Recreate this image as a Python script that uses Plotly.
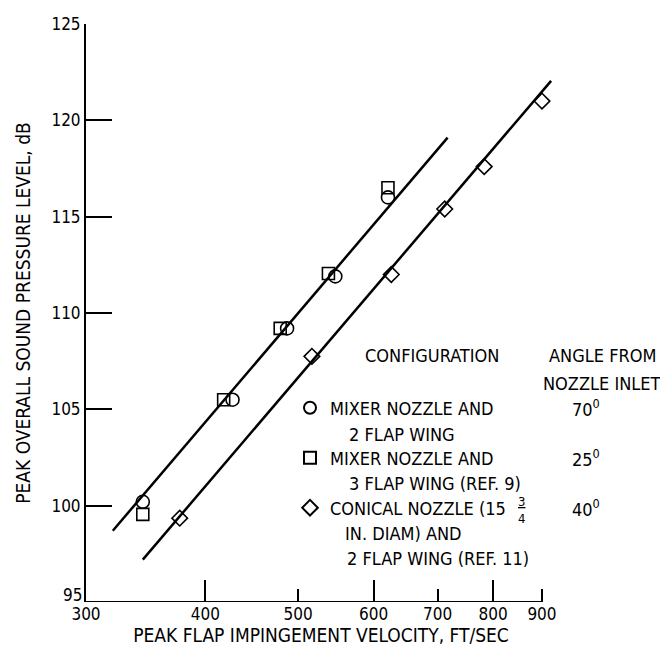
import math
import plotly.graph_objects as go

# ---------------- data ----------------
circle_v = [344, 427, 487, 547, 621]
circle_db = [100.2, 105.5, 109.2, 111.9, 116.0]

square_v = [344, 418, 479, 538, 621]
square_db = [99.55, 105.5, 109.2, 112.05, 116.5]

diamond_v = [376, 517, 626, 712, 783, 900]
diamond_db = [99.35, 107.75, 112.0, 115.4, 117.6, 121.0]

# faired lines (end points)
fit1_v = [320, 717]
fit1_db = [98.7, 119.1]
fit2_v = [344, 920]
fit2_db = [97.2, 122.05]

x_tick_vals = [300, 400, 500, 600, 700, 800, 900]
x_tick_text = ["300", "400", "500", "600", "700", "800", "900"]
x_long_ticks = [400, 600, 800]
y_tick_vals = [95, 100, 105, 110, 115, 120, 125]
y_tick_text = ["", "100", "105", "110", "115", "120", "125"]

legend_first = ["MIXER NOZZLE AND", "MIXER NOZZLE AND", "CONICAL NOZZLE (15"]
angles = ["70<sup>0</sup>", "25<sup>0</sup>", "40<sup>0</sup>"]

# ---------------- layout geometry ----------------
OFF = 8  # page body margin
W, H = 668 - OFF, 660 - OFF
L, T = 86 - OFF, 24 - OFF
PW = 470
PH = 578
R = W - L - PW
B = H - T - PH
PX_PER_DECADE = 955.7
x_lo = math.log10(300)
x_hi = x_lo + PW / PX_PER_DECADE

FONT = "Liberation Sans Narrow, DejaVu Sans Condensed, Arial Narrow, sans-serif"
FS = 18


def px_x(px):
    return (px - OFF - L) / PW


def px_y(py):
    return (T + PH - (py - OFF)) / PH


fig = go.Figure()

fig.add_trace(go.Scatter(x=fit1_v, y=fit1_db, mode="lines", xaxis="x2",
                         line=dict(color="black", width=2.5), showlegend=False,
                         hoverinfo="skip"))
fig.add_trace(go.Scatter(x=fit2_v, y=fit2_db, mode="lines", xaxis="x2",
                         line=dict(color="black", width=2.5), showlegend=False,
                         hoverinfo="skip"))

mk_line = dict(color="black", width=1.6)
fig.add_trace(go.Scatter(x=square_v, y=square_db, mode="markers", name=legend_first[1],
                         legend="legend2",
                         marker=dict(symbol="square-open", size=12, color="black", line=mk_line)))
fig.add_trace(go.Scatter(x=circle_v, y=circle_db, mode="markers", name=legend_first[0],
                         legend="legend",
                         marker=dict(symbol="circle-open", size=13, color="black", line=mk_line)))
fig.add_trace(go.Scatter(x=diamond_v, y=diamond_db, mode="markers", name=legend_first[2],
                         legend="legend3",
                         marker=dict(symbol="diamond-open", size=12, color="black", line=mk_line)))

leg_common = dict(font=dict(family=FONT, size=FS, color="black"), bgcolor="rgba(0,0,0,0)",
                  xanchor="left", yanchor="middle", itemwidth=30, itemsizing="constant")
legend_ys = [408, 458, 508]

annos = []


def add_text(text, px, py, anchor="left", size=FS):
    annos.append(dict(text=text, x=px_x(px), y=px_y(py), xref="paper", yref="paper",
                      xanchor=anchor, yanchor="middle", showarrow=False,
                      font=dict(family=FONT, size=size, color="black")))


add_text("CONFIGURATION", 363, 355)
add_text("ANGLE FROM", 602, 355, anchor="center")
add_text("NOZZLE INLET", 602, 383, anchor="center")
add_text("2 FLAP WING", 347, 434)
add_text("3 FLAP WING (REF. 9)", 347, 483)
add_text("IN. DIAM) AND", 343, 533)
add_text("2 FLAP WING (REF. 11)", 345, 558)
for a, yy in zip(angles, legend_ys):
    add_text(a, 570, yy)
add_text("<u>3</u><br>4", 516, 510, size=13)
add_text("95", 84, 595, anchor="right", size=17)

fig.update_layout(
    width=W, height=H,
    margin=dict(l=L, r=R, t=T, b=B, autoexpand=False),
    paper_bgcolor="white", plot_bgcolor="white",
    font=dict(family=FONT, size=FS, color="black"),
    xaxis=dict(type="log", range=[x_lo, x_hi], tickmode="array",
               tickvals=x_tick_vals, ticktext=x_tick_text,
               ticks="inside", ticklen=13, tickwidth=2, tickcolor="black",
               showline=False, showgrid=False, zeroline=False,
               tickfont=dict(family=FONT, size=17),
               title=dict(text="PEAK FLAP IMPINGEMENT VELOCITY, FT/SEC",
                          font=dict(family=FONT, size=19), standoff=2)),
    xaxis2=dict(type="log", range=[x_lo, x_hi], overlaying="x", anchor="y", side="bottom",
                tickmode="array", tickvals=x_long_ticks, showticklabels=False,
                ticks="inside", ticklen=22, tickwidth=2, tickcolor="black",
                showline=False, showgrid=False, zeroline=False),
    yaxis=dict(range=[95, 125], tickmode="array", tickvals=y_tick_vals, ticktext=y_tick_text,
               ticks="inside", ticklen=26, tickwidth=2, tickcolor="black",
               showline=True, linewidth=2, linecolor="black",
               showgrid=False, zeroline=False,
               tickfont=dict(family=FONT, size=17),
               title=dict(text="PEAK OVERALL SOUND PRESSURE LEVEL, dB",
                          font=dict(family=FONT, size=19), standoff=16)),
    legend=dict(x=px_x(290), y=px_y(legend_ys[0]), **leg_common),
    legend2=dict(x=px_x(290), y=px_y(legend_ys[1]), **leg_common),
    legend3=dict(x=px_x(290), y=px_y(legend_ys[2]), **leg_common),
    annotations=annos,
    shapes=[dict(type="line", xref="x", yref="y", x0=x_tick_vals[0], x1=x_tick_vals[-1],
                 y0=95, y1=95, line=dict(color="black", width=2))],
)

fig.write_html("out.html")
